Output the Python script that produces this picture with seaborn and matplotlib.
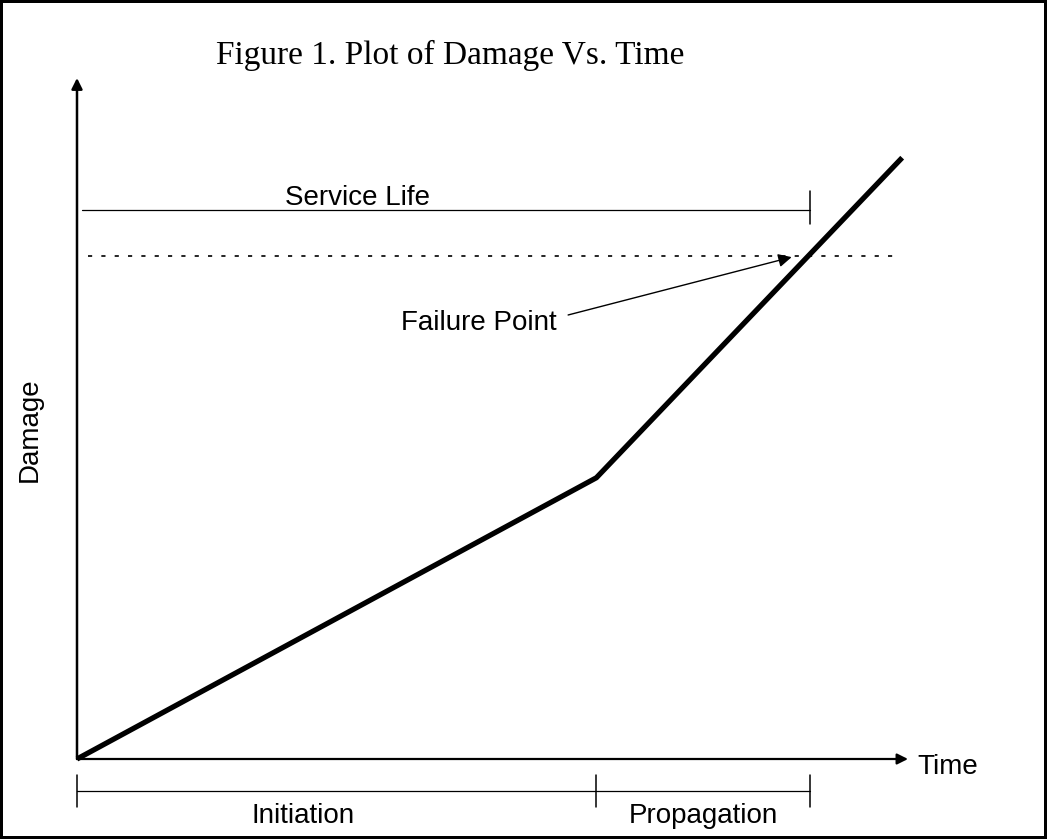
import matplotlib
matplotlib.use("Agg")
import matplotlib.pyplot as plt
import seaborn as sns
import pandas as pd

# ---- data ----
curve_time = [0, 62.5, 99.3]
curve_damage = [0, 41.3, 88.3]
failure_damage = 73.9
service_life_end = 88.2
phase_bounds = [0, 62.5, 88.2]
phase_labels = ["Initiation", "Propagation"]
title_text = "Figure 1. Plot of Damage Vs. Time"
x_label = "Time"
y_label = "Damage"

sns.set_theme(style="white")
plt.rcParams["font.family"] = ["Liberation Sans", "DejaVu Sans"]
plt.rcParams["text.color"] = "black"

W, H = 1047, 839
fig = plt.figure(figsize=(W / 100, H / 100), dpi=100, linewidth=4, edgecolor="black")
ax = fig.add_axes([77 / W, (H - 759) / H, 831 / W, 681 / H])
ax.set_xlim(0, 100)
ax.set_ylim(0, 100)
ax.axis("off")

df = pd.DataFrame({"Time": curve_time, "Damage": curve_damage})
sns.lineplot(data=df, x="Time", y="Damage", color="black", lw=3.8, ax=ax,
             solid_capstyle="butt", clip_on=False)

# axes arrows
ax.annotate("", xy=(100, 0), xytext=(0, 0),
            arrowprops=dict(arrowstyle="-|>", lw=1.6, color="black",
                            mutation_scale=16, shrinkA=0, shrinkB=0))
ax.annotate("", xy=(0, 100), xytext=(0, 0),
            arrowprops=dict(arrowstyle="-|>", lw=1.8, color="black",
                            mutation_scale=16, shrinkA=0, shrinkB=0))
ax.text(101.1, -1.2, x_label, fontsize=20, va="center", ha="left")
ax.text(-5.65, 48.3, y_label, fontsize=20, va="center", ha="center", rotation=90)

# failure threshold (dotted)
ax.plot([1.3, 98.7], [failure_damage, failure_damage], color="black", lw=1.2,
        dashes=(2.5, 5.5))

# service life bracket
ax.plot([0.6, service_life_end], [80.6, 80.6], color="black", lw=0.9)
ax.plot([service_life_end, service_life_end], [78.6, 83.4], color="black", lw=1.1)
ax.text(33.7, 81.35, "Service Life", fontsize=20, ha="center", va="baseline")

# failure point annotation
ax.annotate("", xy=(86.0, 73.7), xytext=(59.1, 65.2),
            arrowprops=dict(arrowstyle="-|>", lw=1.0, color="black",
                            mutation_scale=20, shrinkA=0, shrinkB=0))
ax.text(48.3, 63.0, "Failure Point", fontsize=20, ha="center", va="baseline")

# phase brackets below time axis
ax.plot([phase_bounds[0], phase_bounds[-1]], [-4.7, -4.7], color="black", lw=0.9,
        clip_on=False)
for b in phase_bounds:
    ax.plot([b, b], [-2.35, -7.05], color="black", lw=1.1, clip_on=False)
for i, lab in enumerate(phase_labels):
    ax.text((phase_bounds[i] + phase_bounds[i + 1]) / 2 - (4.1 if i == 0 else 0), -9.4,
            lab, fontsize=20, ha="center", va="baseline")

fig.text(216 / W, 1 - 64 / H, title_text, fontsize=24, family="Liberation Serif",
         ha="left", va="baseline")

fig.savefig("out.png", dpi=100, edgecolor=fig.get_edgecolor())
